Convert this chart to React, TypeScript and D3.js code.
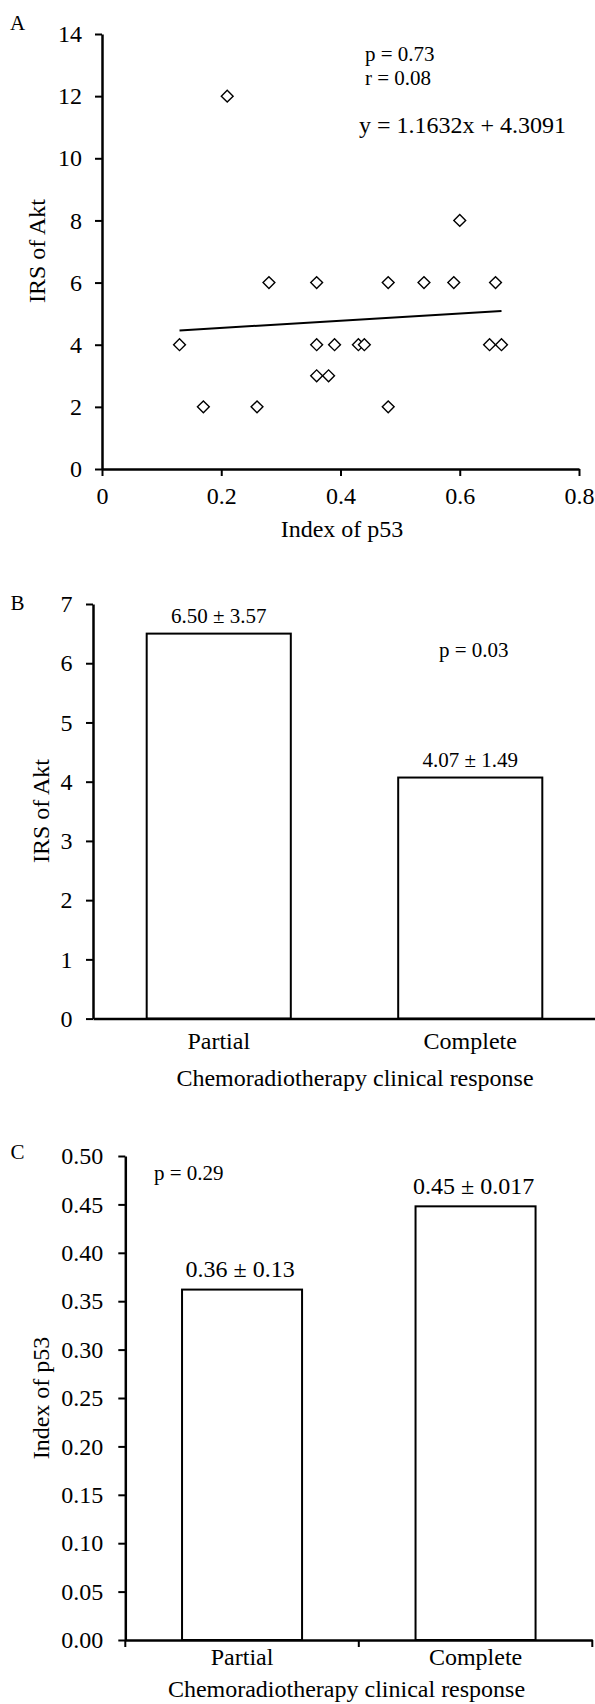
import { useEffect, useRef } from 'react';
import * as d3 from 'd3';

// Panel A: scatter of p53 index vs Akt IRS
const p53Index = [0.21, 0.6, 0.28, 0.36, 0.48, 0.54, 0.59, 0.66, 0.13, 0.36, 0.39, 0.43, 0.44, 0.65, 0.67, 0.36, 0.38, 0.17, 0.26, 0.48];
const aktIrs = [12, 8, 6, 6, 6, 6, 6, 6, 4, 4, 4, 4, 4, 4, 4, 3, 3, 2, 2, 2];
const trendSlope = 1.1632;
const trendIntercept = 4.3091;
const aTicksX = [0, 0.2, 0.4, 0.6, 0.8];
const aTicksY = [0, 2, 4, 6, 8, 10, 12, 14];

// Panels B and C: clinical response groups
const responses = ['Partial', 'Complete'];
const aktMeans = [6.5, 4.07];
const aktLabels = ['6.50 ± 3.57', '4.07 ± 1.49'];
const bTicksY = [0, 1, 2, 3, 4, 5, 6, 7];
const p53Means = [0.362, 0.448];
const p53Labels = ['0.36 ± 0.13', '0.45 ± 0.017'];
const cTicksY = [0, 0.05, 0.1, 0.15, 0.2, 0.25, 0.3, 0.35, 0.4, 0.45, 0.5];

const FONT = '"Liberation Serif", "Times New Roman", Times, serif';
const W = 595;
const H = 1704;

const styleAxis = (g: d3.Selection<SVGGElement, unknown, null, undefined>) => {
	g.attr('font-size', 24).attr('font-family', FONT);
	g.select('.domain').attr('stroke', '#000').attr('stroke-width', 2.5);
	g.selectAll('.tick line').attr('stroke', '#000').attr('stroke-width', 2);
	g.selectAll('.tick text').attr('fill', '#000').attr('font-family', FONT);
};

const addText = (
	svg: d3.Selection<SVGSVGElement, unknown, null, undefined>,
	x: number,
	y: number,
	txt: string,
	size: number,
	anchor = 'start',
	rotate = false
) => {
	svg
		.append('text')
		.attr('transform', rotate ? `translate(${x},${y}) rotate(-90)` : `translate(${x},${y})`)
		.attr('text-anchor', anchor)
		.attr('font-family', FONT)
		.attr('font-size', size)
		.attr('fill', '#000')
		.text(txt);
};

export default function App() {
	const svgRef = useRef<SVGSVGElement>(null);

	useEffect(() => {
		document.body.style.margin = '0';
		if (!svgRef.current) return;
		const svg = d3.select(svgRef.current);
		svg.selectAll('*').remove();

		// ---------- Panel A ----------
		const ax = d3.scaleLinear().domain([0, 0.8]).range([102, 579]);
		const ay = d3.scaleLinear().domain([0, 14]).range([469, 34]);

		svg
			.append('g')
			.attr('transform', `translate(0,${ay(0)})`)
			.call(d3.axisBottom(ax).tickValues(aTicksX).tickFormat((d) => String(d)).tickSize(7).tickSizeOuter(0).tickPadding(11))
			.call(styleAxis);
		svg
			.append('g')
			.attr('transform', `translate(${ax(0)},0)`)
			.call(d3.axisLeft(ay).tickValues(aTicksY).tickFormat((d) => String(d)).tickSize(7).tickSizeOuter(0).tickPadding(13))
			.call(styleAxis);

		const xMin = d3.min(p53Index) as number;
		const xMax = d3.max(p53Index) as number;
		const trend = d3
			.line<number>()
			.x((d) => ax(d))
			.y((d) => ay(trendSlope * d + trendIntercept));
		svg.append('path').attr('d', trend([xMin, xMax])).attr('fill', 'none').attr('stroke', '#000').attr('stroke-width', 2);

		const diamond = d3.symbol().type(d3.symbolSquare).size(70);
		svg
			.append('g')
			.selectAll('path')
			.data(p53Index.map((x, i) => [x, aktIrs[i]]))
			.enter()
			.append('path')
			.attr('d', diamond)
			.attr('transform', (d) => `translate(${ax(d[0])},${ay(d[1])}) rotate(45)`)
			.attr('fill', '#fff')
			.attr('stroke', '#000')
			.attr('stroke-width', 1.4);

		addText(svg, 10, 30, 'A', 21);
		addText(svg, 365, 60.5, 'p = 0.73', 21);
		addText(svg, 365, 85, 'r = 0.08', 21);
		addText(svg, 359, 132.5, `y = ${trendSlope}x + ${trendIntercept}`, 24);
		addText(svg, 45, 251, 'IRS of Akt', 24, 'middle', true);
		addText(svg, 342, 537, 'Index of p53', 24, 'middle');

		// ---------- Panel B ----------
		const bx = d3.scaleBand<string>().domain(responses).range([93, 596]).padding(0);
		const by = d3.scaleLinear().domain([0, 7]).range([1018.6, 604]);
		const bBarW = bx.bandwidth() * 0.573;

		svg
			.append('g')
			.selectAll('rect')
			.data(responses)
			.enter()
			.append('rect')
			.attr('x', (d) => (bx(d) as number) + (bx.bandwidth() - bBarW) / 2)
			.attr('y', (d, i) => by(aktMeans[i]))
			.attr('width', bBarW)
			.attr('height', (d, i) => by(0) - by(aktMeans[i]))
			.attr('fill', '#fff')
			.attr('stroke', '#000')
			.attr('stroke-width', 2);

		svg
			.append('g')
			.attr('transform', `translate(0,${by(0)})`)
			.call(d3.axisBottom(bx).tickSize(0).tickSizeOuter(0).tickPadding(13))
			.call(styleAxis);
		svg
			.append('g')
			.attr('transform', `translate(${bx.range()[0]},0)`)
			.call(d3.axisLeft(by).tickValues(bTicksY).tickFormat((d) => String(d)).tickSize(7).tickSizeOuter(0).tickPadding(13.4))
			.call(styleAxis);

		responses.forEach((r, i) => {
			addText(svg, (bx(r) as number) + bx.bandwidth() / 2, by(aktMeans[i]) - 10.5, aktLabels[i], 21, 'middle');
		});
		addText(svg, 10.5, 610, 'B', 21);
		addText(svg, 439, 656.5, 'p = 0.03', 21);
		addText(svg, 49, 811, 'IRS of Akt', 24, 'middle', true);
		addText(svg, 355, 1086, 'Chemoradiotherapy clinical response', 24, 'middle');

		// ---------- Panel C ----------
		const cx = d3.scaleBand<string>().domain(responses).range([125.3, 592.3]).padding(0);
		const cy = d3.scaleLinear().domain([0, 0.5]).range([1640, 1156]);
		const cBarW = cx.bandwidth() * 0.514;

		svg
			.append('g')
			.selectAll('rect')
			.data(responses)
			.enter()
			.append('rect')
			.attr('x', (d) => (cx(d) as number) + (cx.bandwidth() - cBarW) / 2)
			.attr('y', (d, i) => cy(p53Means[i]))
			.attr('width', cBarW)
			.attr('height', (d, i) => cy(0) - cy(p53Means[i]))
			.attr('fill', '#fff')
			.attr('stroke', '#000')
			.attr('stroke-width', 2);

		const cxAxis = svg
			.append('g')
			.attr('transform', `translate(0,${cy(0)})`)
			.call(d3.axisBottom(cx).tickSize(0).tickSizeOuter(0).tickPadding(8))
			.call(styleAxis);
		// category boundary ticks
		const bounds = [...responses.map((r) => cx(r) as number), cx.range()[1]];
		cxAxis
			.selectAll('line.bound')
			.data(bounds)
			.enter()
			.append('line')
			.attr('class', 'bound')
			.attr('x1', (d) => d)
			.attr('x2', (d) => d)
			.attr('y1', 0)
			.attr('y2', 7)
			.attr('stroke', '#000')
			.attr('stroke-width', 2);

		svg
			.append('g')
			.attr('transform', `translate(${cx.range()[0]},0)`)
			.call(d3.axisLeft(cy).tickValues(cTicksY).tickFormat(d3.format('.2f')).tickSize(7).tickSizeOuter(0).tickPadding(15))
			.call(styleAxis);

		responses.forEach((r, i) => {
			addText(svg, (cx(r) as number) + cx.bandwidth() / 2 - 2, cy(p53Means[i]) - 12.5, p53Labels[i], 24, 'middle');
		});
		addText(svg, 10.5, 1159, 'C', 21);
		addText(svg, 154, 1180, 'p = 0.29', 21);
		addText(svg, 49, 1398, 'Index of p53', 24, 'middle', true);
		addText(svg, 346.5, 1697, 'Chemoradiotherapy clinical response', 24, 'middle');
	}, []);

	return <svg ref={svgRef} width={W} height={H} style={{ display: 'block', background: '#fff' }} />;
}
